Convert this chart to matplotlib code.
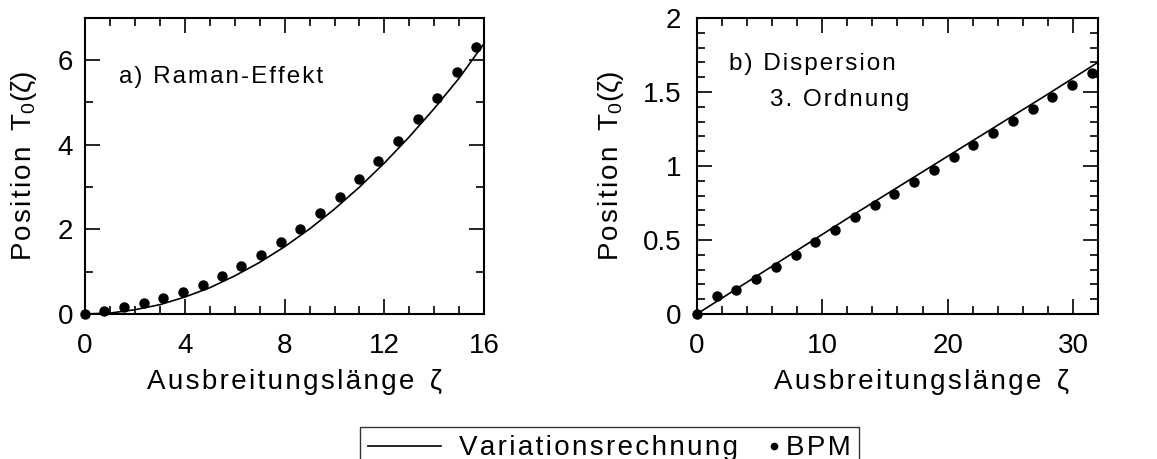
import matplotlib.pyplot as plt
from matplotlib.legend_handler import HandlerLine2D
from matplotlib.lines import Line2D
from matplotlib.ticker import MultipleLocator

plt.rcParams['font.family'] = ['Liberation Sans', 'DejaVu Sans']
plt.rcParams['mathtext.fontset'] = 'custom'
plt.rcParams['mathtext.rm'] = 'Liberation Sans'

# a) Raman-Effekt
raman_bpm_x = [0, 0.78, 1.57, 2.35, 3.14, 3.92, 4.71, 5.49, 6.27, 7.06, 7.84,
               8.63, 9.41, 10.2, 10.98, 11.76, 12.55, 13.33, 14.12, 14.9, 15.69]
raman_bpm_y = [0, 0.08, 0.17, 0.27, 0.37, 0.52, 0.69, 0.90, 1.13, 1.39, 1.70,
               2.01, 2.38, 2.77, 3.19, 3.61, 4.10, 4.60, 5.11, 5.71, 6.32]
raman_var_x = [0, 1, 2, 3, 4, 5, 6, 7, 8, 9, 10, 11, 12, 13, 14, 15, 16]
raman_var_y = [0, 0.02, 0.10, 0.22, 0.40, 0.62, 0.90, 1.22, 1.59, 2.01, 2.48,
               3.00, 3.57, 4.19, 4.86, 5.58, 6.40]

# b) Dispersion 3. Ordnung
disp_bpm_x = [0, 1.575, 3.15, 4.725, 6.3, 7.875, 9.45, 11.025, 12.6, 14.175, 15.75,
              17.325, 18.9, 20.475, 22.05, 23.625, 25.2, 26.775, 28.35, 29.925, 31.5]
disp_bpm_y = [0, 0.118, 0.163, 0.235, 0.317, 0.40, 0.486, 0.57, 0.652, 0.735, 0.812,
              0.894, 0.971, 1.057, 1.143, 1.224, 1.303, 1.385, 1.466, 1.548, 1.629]
disp_var_x = [0, 4, 8, 12, 16, 20, 24, 28, 32]
disp_var_y = [0, 0.215, 0.43, 0.645, 0.855, 1.065, 1.275, 1.485, 1.70]

FS = 20         # ticks, axis labels, legend
FS_NOTE = 17.5  # panel captions


def spaced(s):
    # the original uses wide letter spacing
    return '\u200a'.join(s)


class HandlerDotRight(HandlerLine2D):
    # put the legend dot right next to its label (marker sits mid-line)
    def get_xdata(self, legend, xdescent, ydescent, width, height, fontsize):
        x = [-xdescent + width, -xdescent + width + 8]
        return x, x


fig = plt.figure(figsize=(11.57, 4.59), dpi=100)
ax1 = fig.add_axes([0.0735, 0.316, 0.345, 0.645])
ax2 = fig.add_axes([0.6024, 0.316, 0.3466, 0.645])

ylabel = spaced('Position') + '  T$_0$(ζ)'
xlabel = spaced('Ausbreitungslänge') + '  ζ'

for ax in (ax1, ax2):
    for s in ax.spines.values():
        s.set_linewidth(1.5)
    ax.tick_params(which='both', direction='in', top=True, right=True,
                   labelsize=FS, width=1.2)
    ax.tick_params(which='major', length=11)
    ax.tick_params(which='minor', length=5.5)
    ax.tick_params(axis='x', pad=14)
    ax.set_ylabel(ylabel, fontsize=FS)
    ax.set_xlabel(xlabel, fontsize=FS, va='center')

ax1.tick_params(axis='y', pad=8.5)
ax2.tick_params(axis='y', pad=11.5)
ax1.yaxis.set_label_coords(-0.115, 0.5)
ax2.yaxis.set_label_coords(-0.177, 0.5)
ax1.xaxis.set_label_coords(0.525, -0.23)
ax2.xaxis.set_label_coords(0.56, -0.23)

ax1.plot(raman_var_x, raman_var_y, color='black', lw=1.2, clip_on=False)
ax1.plot(raman_bpm_x, raman_bpm_y, 'o', color='black', ms=6.5, clip_on=False)
ax1.set_xlim(0, 16)
ax1.set_ylim(0, 7)
ax1.xaxis.set_major_locator(MultipleLocator(4))
ax1.xaxis.set_minor_locator(MultipleLocator(1))
ax1.yaxis.set_major_locator(MultipleLocator(2))
ax1.yaxis.set_minor_locator(MultipleLocator(1))
ax1.text(1.36, 5.6, spaced('a) Raman-Effekt'), fontsize=FS_NOTE, va='center')

ax2.plot(disp_var_x, disp_var_y, color='black', lw=1.2, clip_on=False)
ax2.plot(disp_bpm_x, disp_bpm_y, 'o', color='black', ms=6.5, clip_on=False)
ax2.set_xlim(0, 32)
ax2.set_ylim(0, 2)
ax2.xaxis.set_major_locator(MultipleLocator(10))
ax2.xaxis.set_minor_locator(MultipleLocator(2))
ax2.yaxis.set_minor_locator(MultipleLocator(0.1))
ax2.set_yticks([0, 0.5, 1, 1.5, 2], ['0', '0.5', '1', '1.5', '2'])
ax2.text(2.56, 1.69, spaced('b) Dispersion'), fontsize=FS_NOTE, va='center')
ax2.text(5.84, 1.445, spaced('3. Ordnung'), fontsize=FS_NOTE, va='center')

var_handle = Line2D([], [], color='black', lw=1.2)
bpm_handle = Line2D([], [], marker='o', ls='none', color='black', ms=4.5)
leg = fig.legend([var_handle, bpm_handle],
                 [spaced('Variationsrechnung'), spaced('BPM')], ncol=2,
                 loc='upper left', bbox_to_anchor=(360 / 1157, 1 - 427 / 459),
                 fontsize=FS, frameon=True, fancybox=False, edgecolor='black',
                 handlelength=2.6, handletextpad=0.65, columnspacing=-1.5,
                 borderpad=0.3, borderaxespad=0,
                 handler_map={bpm_handle: HandlerDotRight(numpoints=1)})
leg.get_frame().set_linewidth(1.0)

fig.savefig('out.png', dpi=100)
